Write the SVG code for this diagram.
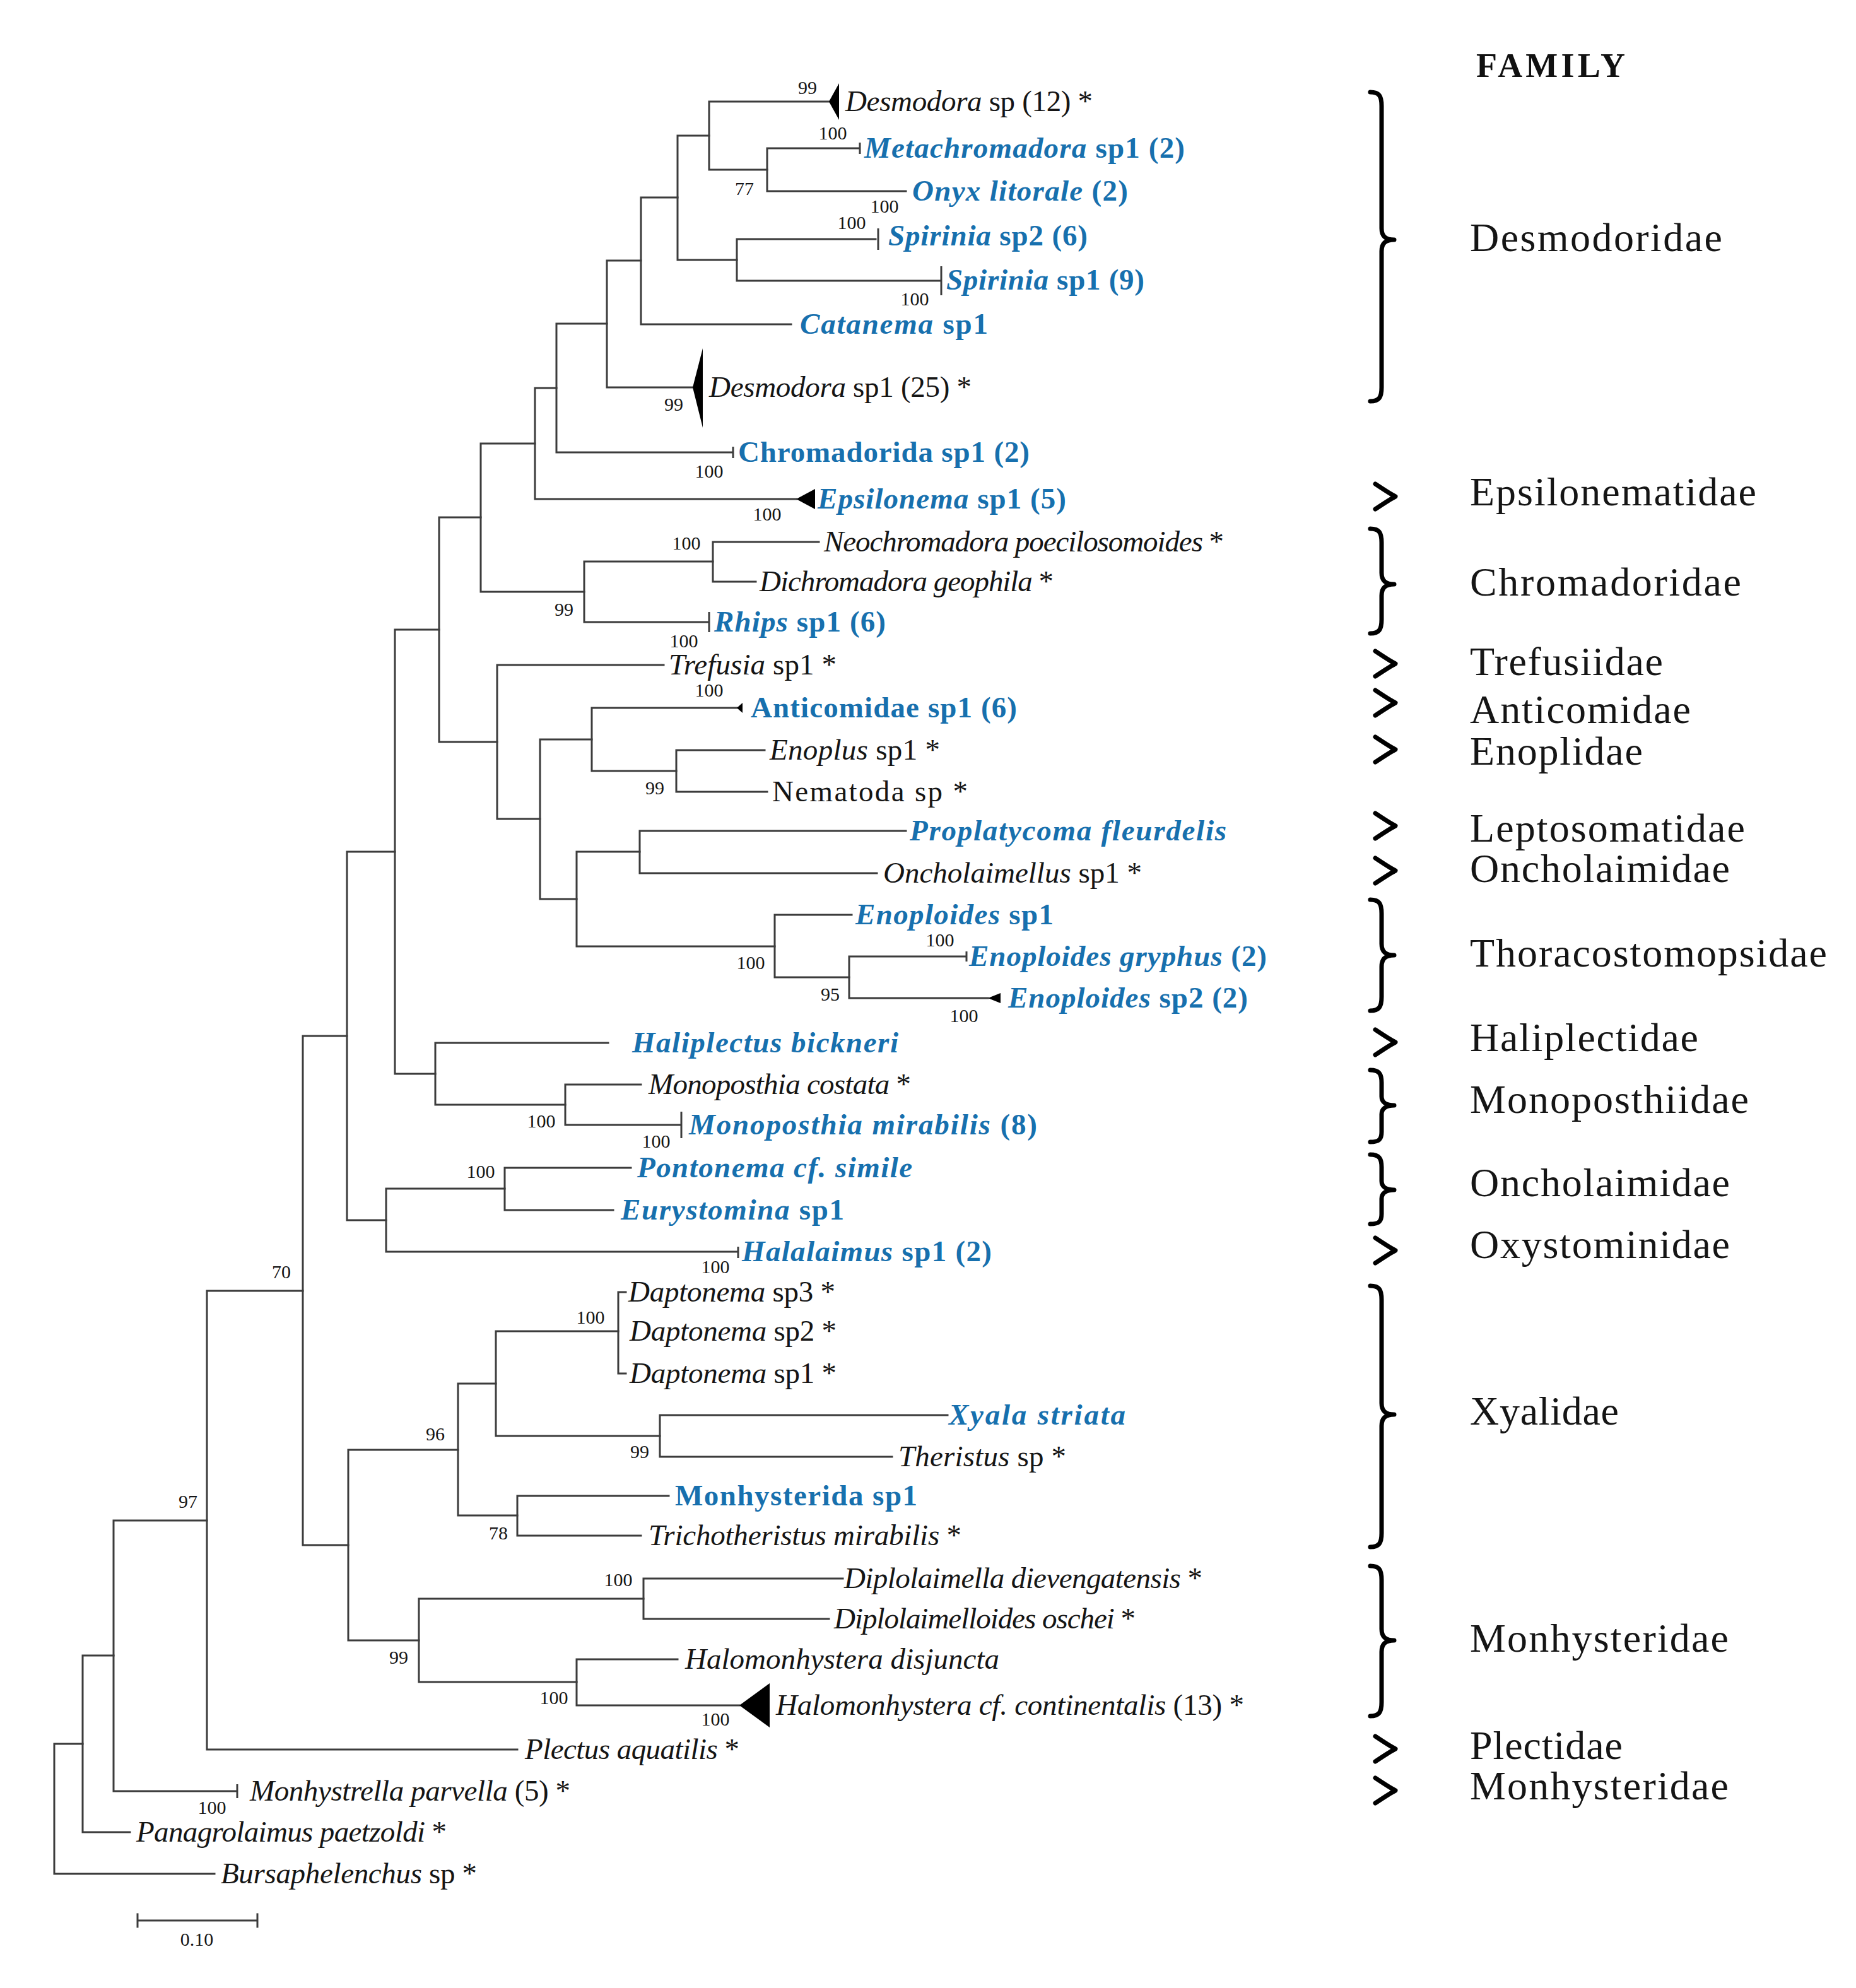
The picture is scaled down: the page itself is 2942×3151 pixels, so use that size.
<svg xmlns="http://www.w3.org/2000/svg" width="2942" height="3151" viewBox="0 0 2942 3151">
<style>
.bg{fill:#fff}
.br{stroke:#3c3c3c;stroke-width:3;fill:none;stroke-linecap:square}
.tk{stroke:#3c3c3c;stroke-width:3;fill:none}
.tri{fill:#000}
.lf{font-family:"Liberation Serif",serif;font-size:47px;fill:#151515}
.bl{fill:#1770ae;font-weight:bold}
.i{font-style:italic}
.bs{font-family:"Liberation Serif",serif;font-size:30px;fill:#151515;text-anchor:middle}
.fam{font-family:"Liberation Serif",serif;font-size:64px;fill:#151515}
.hdr{font-family:"Liberation Serif",serif;font-size:54px;font-weight:bold;fill:#111}
.brace{stroke:#000;stroke-width:7;fill:none;stroke-linecap:round;stroke-linejoin:round}
</style>
<rect class="bg" x="0" y="0" width="2942" height="3151"/>

<g id="connectors">
<path class="br" d="M1216 235V303M1216 235H1362M1216 303H1436"/>
<path class="br" d="M1124 161V269M1124 161H1314M1124 269H1216"/>
<path class="br" d="M1168 379V445M1168 379H1388M1168 445H1490"/>
<path class="br" d="M1074 215V412M1074 215H1124M1074 412H1168"/>
<path class="br" d="M1016 313V514M1016 313H1074M1016 514H1254"/>
<path class="br" d="M962 413V614M962 413H1016M962 614H1098"/>
<path class="br" d="M882 513V717M882 513H962M882 717H1160"/>
<path class="br" d="M848 615V791M848 615H882M848 791H1262"/>
<path class="br" d="M1130 859V922M1130 859H1298M1130 922H1198"/>
<path class="br" d="M926 890V986M926 890H1130M926 986H1122"/>
<path class="br" d="M762 703V938M762 703H848M762 938H926"/>
<path class="br" d="M1072 1189V1255M1072 1189H1212M1072 1255H1216"/>
<path class="br" d="M938 1122V1222M938 1122H1168M938 1222H1072"/>
<path class="br" d="M1014 1317V1384M1014 1317H1436M1014 1384H1390"/>
<path class="br" d="M1346 1516V1582M1346 1516H1530M1346 1582H1566"/>
<path class="br" d="M1228 1450V1549M1228 1450H1350M1228 1549H1346"/>
<path class="br" d="M914 1350V1500M914 1350H1014M914 1500H1228"/>
<path class="br" d="M856 1172V1425M856 1172H938M856 1425H914"/>
<path class="br" d="M788 1054V1298M788 1054H1052M788 1298H856"/>
<path class="br" d="M696 820V1176M696 820H762M696 1176H788"/>
<path class="br" d="M896 1719V1783M896 1719H1016M896 1783H1078"/>
<path class="br" d="M690 1653V1751M690 1653H964M690 1751H896"/>
<path class="br" d="M626 998V1702M626 998H696M626 1702H690"/>
<path class="br" d="M800 1851V1918M800 1851H1000M800 1918H972"/>
<path class="br" d="M612 1884V1984M612 1884H800M612 1984H1168"/>
<path class="br" d="M550 1350V1934M550 1350H626M550 1934H612"/>
<path class="br" d="M992 2048H980V2177H992"/>
<path class="br" d="M1046 2243V2309M1046 2243H1502M1046 2309H1414"/>
<path class="br" d="M786 2110V2276M786 2110H980M786 2276H1046"/>
<path class="br" d="M820 2371V2434M820 2371H1060M820 2434H1016"/>
<path class="br" d="M726 2193V2402M726 2193H786M726 2402H820"/>
<path class="br" d="M1020 2502V2566M1020 2502H1336M1020 2566H1314"/>
<path class="br" d="M914 2630V2703M914 2630H1074M914 2703H1172"/>
<path class="br" d="M664 2534V2666M664 2534H1020M664 2666H914"/>
<path class="br" d="M552 2298V2600M552 2298H726M552 2600H664"/>
<path class="br" d="M480 1642V2449M480 1642H550M480 2449H552"/>
<path class="br" d="M328 2046V2773M328 2046H480M328 2773H820"/>
<path class="br" d="M180 2410V2839M180 2410H328M180 2839H374"/>
<path class="br" d="M131 2624V2904M131 2624H180M131 2904H206"/>
<path class="br" d="M86 2764V2970M86 2764H131M86 2970H340"/>
</g>

<g id="bootstrap">
<text class="bs" x="1280" y="149">99</text>
<text class="bs" x="1320" y="221">100</text>
<text class="bs" x="1180" y="309">77</text>
<text class="bs" x="1402" y="337">100</text>
<text class="bs" x="1350" y="363">100</text>
<text class="bs" x="1450" y="484">100</text>
<text class="bs" x="1068" y="651">99</text>
<text class="bs" x="1124" y="757">100</text>
<text class="bs" x="1216" y="825">100</text>
<text class="bs" x="1088" y="871">100</text>
<text class="bs" x="894" y="976">99</text>
<text class="bs" x="1084" y="1026">100</text>
<text class="bs" x="1124" y="1104">100</text>
<text class="bs" x="1038" y="1259">99</text>
<text class="bs" x="1190" y="1536">100</text>
<text class="bs" x="1490" y="1500">100</text>
<text class="bs" x="1316" y="1586">95</text>
<text class="bs" x="1528" y="1620">100</text>
<text class="bs" x="858" y="1787">100</text>
<text class="bs" x="1040" y="1819">100</text>
<text class="bs" x="762" y="1867">100</text>
<text class="bs" x="1134" y="2018">100</text>
<text class="bs" x="446" y="2026">70</text>
<text class="bs" x="936" y="2098">100</text>
<text class="bs" x="690" y="2283">96</text>
<text class="bs" x="1014" y="2311">99</text>
<text class="bs" x="790" y="2440">78</text>
<text class="bs" x="298" y="2390">97</text>
<text class="bs" x="980" y="2514">100</text>
<text class="bs" x="632" y="2637">99</text>
<text class="bs" x="878" y="2701">100</text>
<text class="bs" x="1134" y="2735">100</text>
<text class="bs" x="336" y="2875">100</text>
</g>

<g id="leaves">
<g id="n01"><polygon class="tri" points="1314,161 1330,132 1330,190"/><text class="lf" x="1340" y="176" textLength="392"><tspan class="i">Desmodora</tspan> sp (12) *</text></g>
<g id="n02"><path class="tk" d="M1363 226V244"/><text class="lf bl" x="1370" y="250" textLength="508"><tspan class="i">Metachromadora</tspan> sp1 (2)</text></g>
<g id="n03"><text class="lf bl" x="1446" y="318" textLength="342"><tspan class="i">Onyx litorale</tspan> (2)</text></g>
<g id="n04"><path class="tk" d="M1392 362V396"/><text class="lf bl" x="1408" y="389" textLength="316"><tspan class="i">Spirinia</tspan> sp2 (6)</text></g>
<g id="n05"><path class="tk" d="M1492 422V468"/><text class="lf bl" x="1500" y="459" textLength="314"><tspan class="i">Spirinia</tspan> sp1 (9)</text></g>
<g id="n06"><text class="lf bl" x="1268" y="529" textLength="298"><tspan class="i">Catanema</tspan> sp1</text></g>
<g id="n07"><polygon class="tri" points="1098,614 1114,552 1114,678"/><text class="lf" x="1124" y="629" textLength="416"><tspan class="i">Desmodora</tspan> sp1 (25) *</text></g>
<g id="n08"><path class="tk" d="M1162 708V726"/><text class="lf bl" x="1170" y="732" textLength="462">Chromadorida sp1 (2)</text></g>
<g id="n09"><polygon class="tri" points="1262,791 1292,775 1292,807"/><text class="lf bl" x="1296" y="806" textLength="394"><tspan class="i">Epsilonema</tspan> sp1 (5)</text></g>
<g id="n10"><text class="lf" x="1306" y="874" textLength="634"><tspan class="i">Neochromadora poecilosomoides</tspan> *</text></g>
<g id="n11"><text class="lf" x="1204" y="937" textLength="466"><tspan class="i">Dichromadora geophila</tspan> *</text></g>
<g id="n12"><path class="tk" d="M1124 970V1002"/><text class="lf bl" x="1132" y="1001" textLength="272"><tspan class="i">Rhips</tspan> sp1 (6)</text></g>
<g id="n13"><text class="lf" x="1060" y="1069" textLength="266"><tspan class="i">Trefusia</tspan> sp1 *</text></g>
<g id="n14"><polygon class="tri" points="1168,1122 1177,1114 1177,1130"/><text class="lf bl" x="1190" y="1137" textLength="422">Anticomidae sp1 (6)</text></g>
<g id="n15"><text class="lf" x="1220" y="1204" textLength="270"><tspan class="i">Enoplus</tspan> sp1 *</text></g>
<g id="n16"><text class="lf" x="1224" y="1270" textLength="310">Nematoda sp *</text></g>
<g id="n17"><text class="lf bl" x="1442" y="1332" textLength="502"><tspan class="i">Proplatycoma fleurdelis</tspan></text></g>
<g id="n18"><text class="lf" x="1400" y="1399" textLength="410"><tspan class="i">Oncholaimellus</tspan> sp1 *</text></g>
<g id="n19"><text class="lf bl" x="1356" y="1465" textLength="314"><tspan class="i">Enoploides</tspan> sp1</text></g>
<g id="n20"><path class="tk" d="M1532 1508V1524"/><text class="lf bl" x="1536" y="1531" textLength="472"><tspan class="i">Enoploides gryphus</tspan> (2)</text></g>
<g id="n21"><polygon class="tri" points="1566,1582 1586,1574 1586,1590"/><text class="lf bl" x="1598" y="1597" textLength="380"><tspan class="i">Enoploides</tspan> sp2 (2)</text></g>
<g id="n22"><text class="lf bl" x="1002" y="1668" textLength="422"><tspan class="i">Haliplectus bickneri</tspan></text></g>
<g id="n23"><text class="lf" x="1028" y="1734" textLength="416"><tspan class="i">Monoposthia costata</tspan> *</text></g>
<g id="n24"><path class="tk" d="M1080 1762V1804"/><text class="lf bl" x="1092" y="1798" textLength="552"><tspan class="i">Monoposthia mirabilis</tspan> (8)</text></g>
<g id="n25"><text class="lf bl" x="1010" y="1866" textLength="436"><tspan class="i">Pontonema cf. simile</tspan></text></g>
<g id="n26"><text class="lf bl" x="984" y="1933" textLength="354"><tspan class="i">Eurystomina</tspan> sp1</text></g>
<g id="n27"><path class="tk" d="M1170 1976V1994"/><text class="lf bl" x="1176" y="1999" textLength="396"><tspan class="i">Halalaimus</tspan> sp1 (2)</text></g>
<g id="n28"><text class="lf" x="996" y="2063" textLength="328"><tspan class="i">Daptonema</tspan> sp3 *</text></g>
<g id="n29"><text class="lf" x="998" y="2125" textLength="328"><tspan class="i">Daptonema</tspan> sp2 *</text></g>
<g id="n30"><text class="lf" x="998" y="2192" textLength="328"><tspan class="i">Daptonema</tspan> sp1 *</text></g>
<g id="n31"><text class="lf bl" x="1504" y="2258" textLength="280"><tspan class="i">Xyala striata</tspan></text></g>
<g id="n32"><text class="lf" x="1424" y="2324" textLength="266"><tspan class="i">Theristus</tspan> sp *</text></g>
<g id="n33"><text class="lf bl" x="1070" y="2386" textLength="384">Monhysterida sp1</text></g>
<g id="n34"><text class="lf" x="1028" y="2449" textLength="496"><tspan class="i">Trichotheristus mirabilis</tspan> *</text></g>
<g id="n35"><text class="lf" x="1338" y="2517" textLength="568"><tspan class="i">Diplolaimella dievengatensis</tspan> *</text></g>
<g id="n36"><text class="lf" x="1322" y="2581" textLength="478"><tspan class="i">Diplolaimelloides oschei</tspan> *</text></g>
<g id="n37"><text class="lf" x="1086" y="2645" textLength="498"><tspan class="i">Halomonhystera disjuncta</tspan></text></g>
<g id="n38"><polygon class="tri" points="1172,2703 1220,2668 1220,2738"/><text class="lf" x="1230" y="2718" textLength="742"><tspan class="i">Halomonhystera cf. continentalis</tspan> (13) *</text></g>
<g id="n39"><text class="lf" x="832" y="2788" textLength="340"><tspan class="i">Plectus aquatilis</tspan> *</text></g>
<g id="n40"><path class="tk" d="M376 2828V2850"/><text class="lf" x="396" y="2854" textLength="508"><tspan class="i">Monhystrella parvella</tspan> (5) *</text></g>
<g id="n41"><text class="lf" x="216" y="2919" textLength="492"><tspan class="i">Panagrolaimus paetzoldi</tspan> *</text></g>
<g id="n42"><text class="lf" x="350" y="2985" textLength="406"><tspan class="i">Bursaphelenchus</tspan> sp *</text></g>
</g>

<g id="scalebar">
<path class="br" d="M218 3044H408M218 3034V3054M408 3034V3054"/>
<text class="bs" x="312" y="3084">0.10</text>
</g>

<g id="families">
<text class="hdr" x="2340" y="122" textLength="236">FAMILY</text>
<path class="brace" d="M2172 146C2186 146 2190 152 2190 168L2190 362C2190 374 2196 380 2210 380C2196 380 2190 386 2190 398L2190 614C2190 630 2186 636 2172 636"/>
<text class="fam" x="2330" y="398" textLength="400">Desmodoridae</text>
<path class="brace" d="M2180 767C2192 775 2204 783 2212 787C2204 791 2192 799 2180 807"/>
<text class="fam" x="2330" y="801" textLength="454">Epsilonematidae</text>
<path class="brace" d="M2172 838C2186 838 2190 844 2190 860L2190 908C2190 920 2196 926 2210 926C2196 926 2190 932 2190 944L2190 982C2190 998 2186 1004 2172 1004"/>
<text class="fam" x="2330" y="944" textLength="430">Chromadoridae</text>
<path class="brace" d="M2180 1032C2192 1040 2204 1048 2212 1052C2204 1056 2192 1064 2180 1072"/>
<text class="fam" x="2330" y="1070" textLength="306">Trefusiidae</text>
<path class="brace" d="M2180 1094C2192 1102 2204 1110 2212 1114C2204 1118 2192 1126 2180 1134"/>
<text class="fam" x="2330" y="1146" textLength="350">Anticomidae</text>
<path class="brace" d="M2180 1168C2192 1176 2204 1184 2212 1188C2204 1192 2192 1200 2180 1208"/>
<text class="fam" x="2330" y="1212" textLength="274">Enoplidae</text>
<path class="brace" d="M2180 1289C2192 1297 2204 1305 2212 1309C2204 1313 2192 1321 2180 1329"/>
<text class="fam" x="2330" y="1334" textLength="436">Leptosomatidae</text>
<path class="brace" d="M2180 1360C2192 1368 2204 1376 2212 1380C2204 1384 2192 1392 2180 1400"/>
<text class="fam" x="2330" y="1398" textLength="412">Oncholaimidae</text>
<path class="brace" d="M2172 1426C2186 1426 2190 1432 2190 1448L2190 1496C2190 1508 2196 1514 2210 1514C2196 1514 2190 1520 2190 1532L2190 1580C2190 1596 2186 1602 2172 1602"/>
<text class="fam" x="2330" y="1532" textLength="566">Thoracostomopsidae</text>
<path class="brace" d="M2180 1632C2192 1640 2204 1648 2212 1652C2204 1656 2192 1664 2180 1672"/>
<text class="fam" x="2330" y="1666" textLength="362">Haliplectidae</text>
<path class="brace" d="M2172 1696C2186 1696 2190 1702 2190 1716L2190 1738C2190 1746 2196 1752 2210 1752C2196 1752 2190 1758 2190 1766L2190 1794C2190 1806 2186 1810 2172 1810"/>
<text class="fam" x="2330" y="1764" textLength="442">Monoposthiidae</text>
<path class="brace" d="M2172 1830C2186 1830 2190 1836 2190 1850L2190 1872C2190 1880 2196 1886 2210 1886C2196 1886 2190 1892 2190 1900L2190 1924C2190 1936 2186 1940 2172 1940"/>
<text class="fam" x="2330" y="1896" textLength="412">Oncholaimidae</text>
<path class="brace" d="M2180 1962C2192 1970 2204 1978 2212 1982C2204 1986 2192 1994 2180 2002"/>
<text class="fam" x="2330" y="1994" textLength="412">Oxystominidae</text>
<path class="brace" d="M2172 2038C2186 2038 2190 2044 2190 2060L2190 2224C2190 2236 2196 2242 2210 2242C2196 2242 2190 2248 2190 2260L2190 2430C2190 2446 2186 2452 2172 2452"/>
<text class="fam" x="2330" y="2258" textLength="236">Xyalidae</text>
<path class="brace" d="M2172 2482C2186 2482 2190 2488 2190 2504L2190 2582C2190 2594 2196 2600 2210 2600C2196 2600 2190 2606 2190 2618L2190 2698C2190 2714 2186 2720 2172 2720"/>
<text class="fam" x="2330" y="2618" textLength="410">Monhysteridae</text>
<path class="brace" d="M2180 2752C2192 2760 2204 2768 2212 2772C2204 2776 2192 2784 2180 2792"/>
<text class="fam" x="2330" y="2788" textLength="242">Plectidae</text>
<path class="brace" d="M2180 2818C2192 2826 2204 2834 2212 2838C2204 2842 2192 2850 2180 2858"/>
<text class="fam" x="2330" y="2852" textLength="410">Monhysteridae</text>
</g>
</svg>
